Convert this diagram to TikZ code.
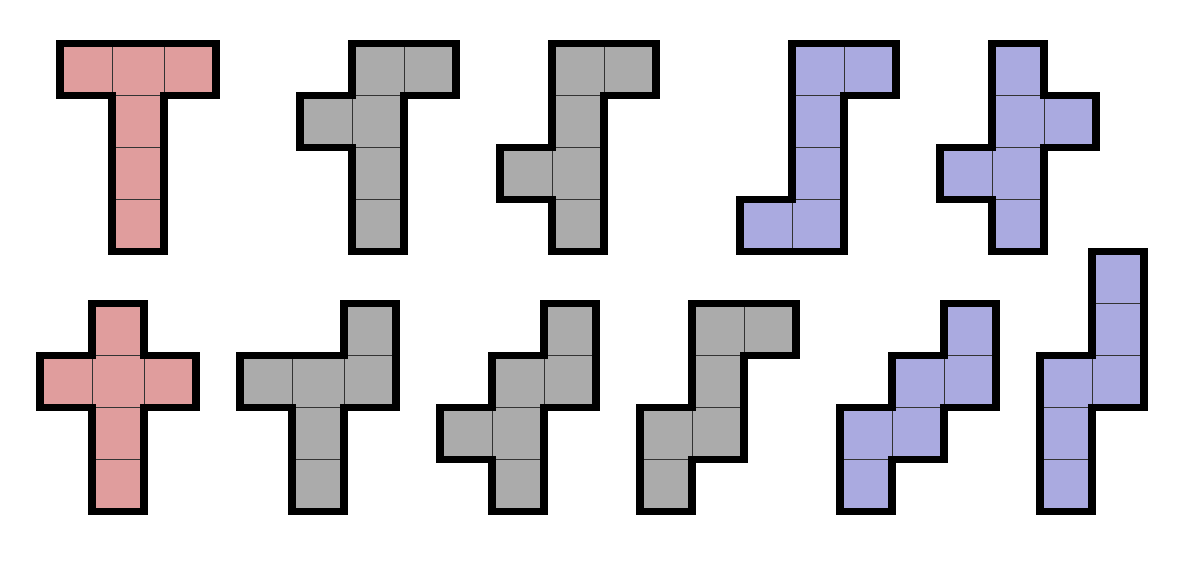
\documentclass[tikz,border=0pt]{standalone}
\definecolor{netred}{RGB}{224,157,157}
\definecolor{netgray}{RGB}{171,171,171}
\definecolor{netblue}{RGB}{170,170,224}
\tikzset{
  cellbox/.style={draw=black!80, line width=1pt},
  netoutline/.style={draw=black, line width=7.3pt, line join=miter},
}
\newcommand\netshape[4]{%
  \begin{scope}[shift={#1}, x=52pt, y=-52pt]
    \foreach \c/\r in {#3} { \filldraw[cellbox, fill=#2] (\c,\r) rectangle ++(1,1); }
    \draw[netoutline] #4;
  \end{scope}}
\begin{document}
\begin{tikzpicture}
  \useasboundingbox (0pt,0pt) rectangle (1200pt,-560pt);
  % top row
  \netshape{(60pt,-43.7pt)}{netred}{0/0,1/0,2/0,1/1,1/2,1/3}
    {(0,0)--(3,0)--(3,1)--(2,1)--(2,4)--(1,4)--(1,1)--(0,1)--cycle}
  \netshape{(300pt,-43.7pt)}{netgray}{1/0,2/0,0/1,1/1,1/2,1/3}
    {(1,0)--(3,0)--(3,1)--(2,1)--(2,4)--(1,4)--(1,2)--(0,2)--(0,1)--(1,1)--cycle}
  \netshape{(500pt,-43.7pt)}{netgray}{1/0,2/0,1/1,0/2,1/2,1/3}
    {(1,0)--(3,0)--(3,1)--(2,1)--(2,4)--(1,4)--(1,3)--(0,3)--(0,2)--(1,2)--cycle}
  \netshape{(740pt,-43.7pt)}{netblue}{1/0,2/0,1/1,1/2,0/3,1/3}
    {(1,0)--(3,0)--(3,1)--(2,1)--(2,4)--(0,4)--(0,3)--(1,3)--cycle}
  \netshape{(940pt,-43.7pt)}{netblue}{1/0,1/1,2/1,0/2,1/2,1/3}
    {(1,0)--(2,0)--(2,1)--(3,1)--(3,2)--(2,2)--(2,4)--(1,4)--(1,3)--(0,3)--(0,2)--(1,2)--cycle}
  % bottom row
  \netshape{(40pt,-303.7pt)}{netred}{1/0,0/1,1/1,2/1,1/2,1/3}
    {(1,0)--(2,0)--(2,1)--(3,1)--(3,2)--(2,2)--(2,4)--(1,4)--(1,2)--(0,2)--(0,1)--(1,1)--cycle}
  \netshape{(240pt,-303.7pt)}{netgray}{2/0,0/1,1/1,2/1,1/2,1/3}
    {(2,0)--(3,0)--(3,2)--(2,2)--(2,4)--(1,4)--(1,2)--(0,2)--(0,1)--(2,1)--cycle}
  \netshape{(440pt,-303.7pt)}{netgray}{2/0,1/1,2/1,0/2,1/2,1/3}
    {(2,0)--(3,0)--(3,2)--(2,2)--(2,4)--(1,4)--(1,3)--(0,3)--(0,2)--(1,2)--(1,1)--(2,1)--cycle}
  \netshape{(640pt,-303.7pt)}{netgray}{1/0,2/0,1/1,0/2,1/2,0/3}
    {(1,0)--(3,0)--(3,1)--(2,1)--(2,3)--(1,3)--(1,4)--(0,4)--(0,2)--(1,2)--cycle}
  \netshape{(840pt,-303.7pt)}{netblue}{2/0,1/1,2/1,0/2,1/2,0/3}
    {(2,0)--(3,0)--(3,2)--(2,2)--(2,3)--(1,3)--(1,4)--(0,4)--(0,2)--(1,2)--(1,1)--(2,1)--cycle}
  \netshape{(1040pt,-251.7pt)}{netblue}{1/0,1/1,0/2,1/2,0/3,0/4}
    {(1,0)--(2,0)--(2,3)--(1,3)--(1,5)--(0,5)--(0,2)--(1,2)--cycle}
\end{tikzpicture}
\end{document}
